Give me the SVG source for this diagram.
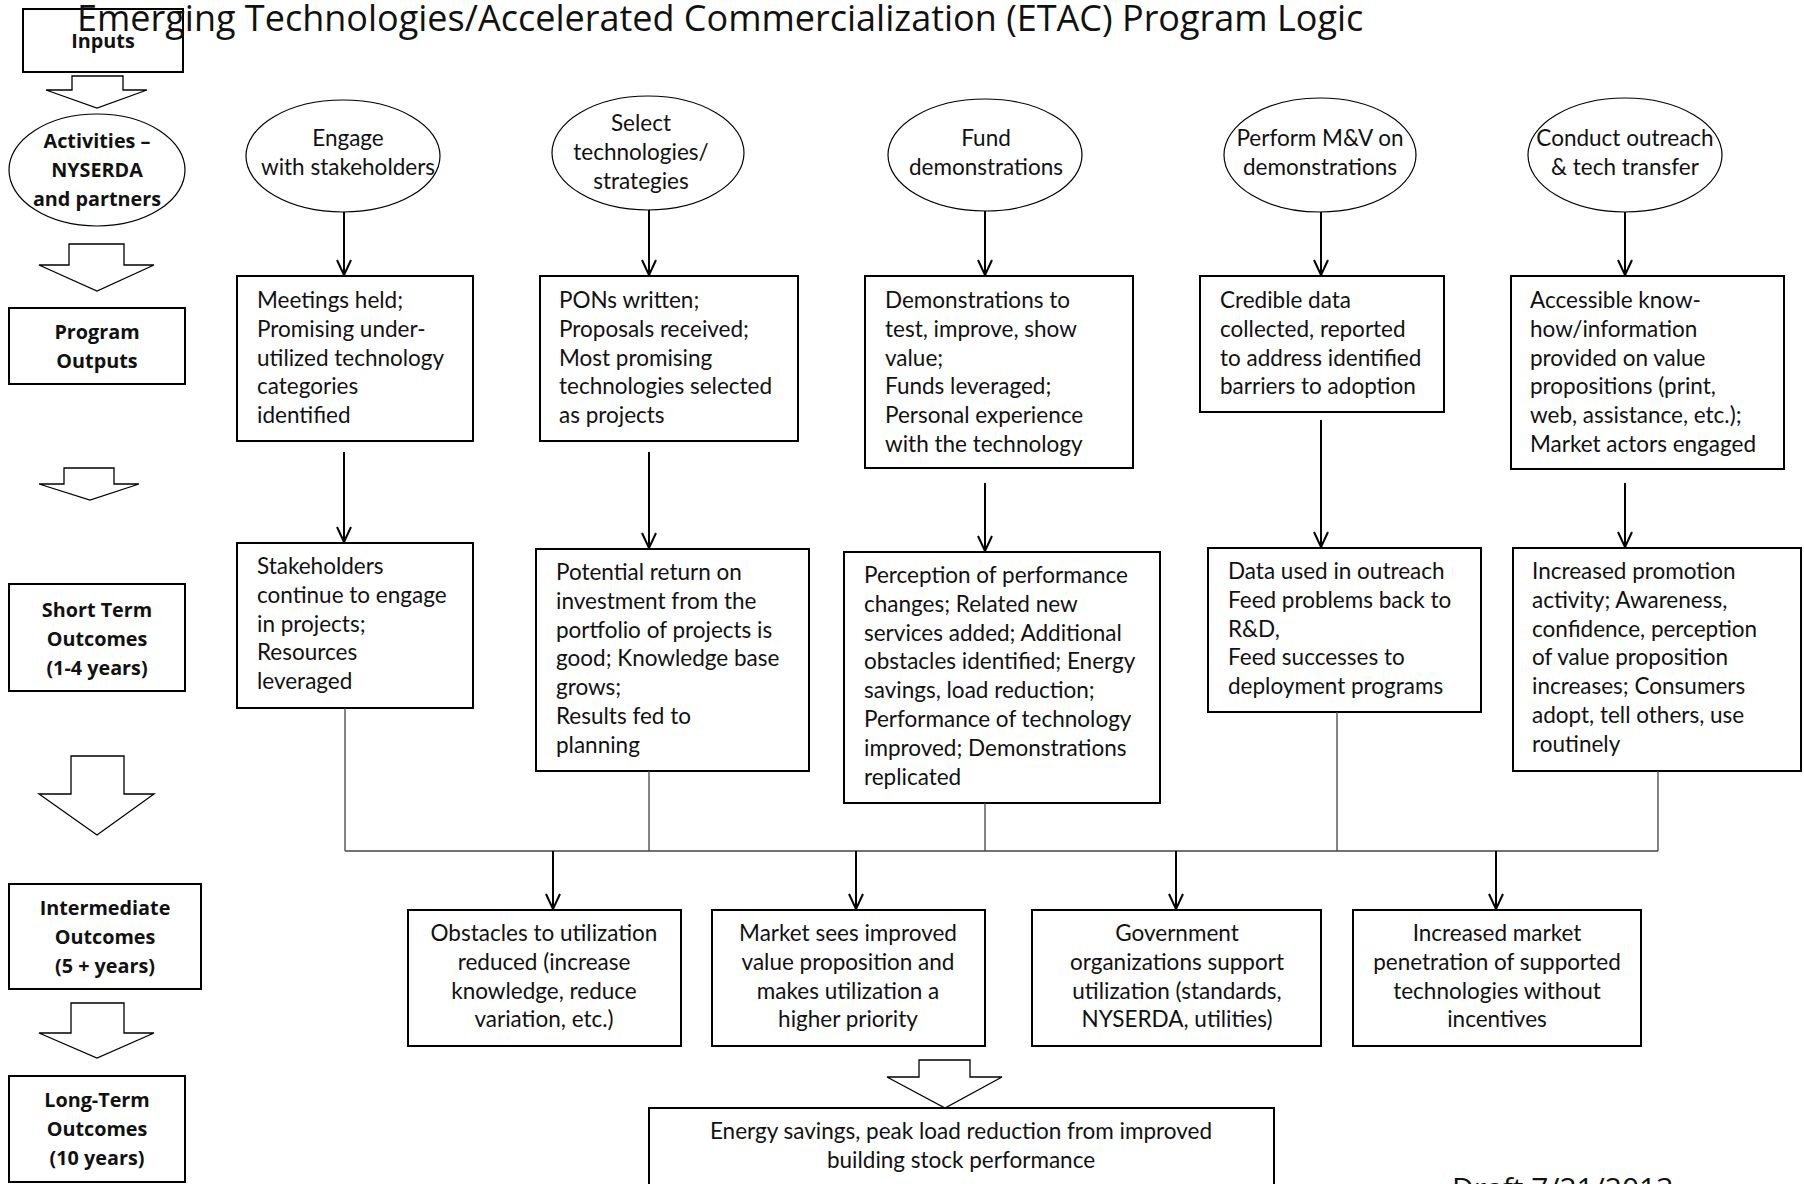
<svg xmlns="http://www.w3.org/2000/svg" width="1804" height="1184" viewBox="0 0 1804 1184">
  <style>
    .box { fill: #fff; stroke: #000; stroke-width: 2; }
    .oval { fill: #fff; stroke: #000; stroke-width: 1.2; }
    .blk { fill: #fff; stroke: #000; stroke-width: 1.3; stroke-linejoin: miter; }
    .t { font-family: Lato, "Open Sans", sans-serif; font-size: 22.5px; fill: #111; }
    .c { text-anchor: middle; }
    .lbl { font-family: "Open Sans", Lato, sans-serif; font-size: 19.8px; font-weight: bold; fill: #111; text-anchor: middle; }
    .title { font-family: "Open Sans", Lato, sans-serif; font-size: 36px; fill: #111; }
    .arr { stroke: #000; stroke-width: 2; fill: none; marker-end: url(#v); }
    .bus { stroke: #444; stroke-width: 1.3; fill: none; }
  </style>
  <defs>
    <marker id="v" markerUnits="userSpaceOnUse" markerWidth="18" markerHeight="18" refX="16" refY="8" orient="auto">
      <path d="M1,1 L16,8 L1,15" fill="none" stroke="#000" stroke-width="2"/>
    </marker>
  </defs>
  <rect width="1804" height="1184" fill="#fff"/>

  <!-- left column: stage labels -->
  <g id="stage-inputs">
    <rect class="box" x="23" y="9" width="160" height="63"/>
    <text class="lbl" x="103" y="48">Inputs</text>
  </g>
  <text class="title" x="77" y="31">Emerging Technologies/Accelerated Commercialization (ETAC) Program Logic</text>

  <g id="stage-activities">
    <ellipse class="oval" cx="97" cy="170" rx="88" ry="56"/>
    <text class="lbl" x="97" y="148">Activities –<tspan x="97" dy="29">NYSERDA</tspan><tspan x="97" dy="29">and partners</tspan></text>
  </g>
  <g id="stage-outputs">
    <rect class="box" x="9" y="308" width="176" height="76"/>
    <text class="lbl" x="97" y="339">Program<tspan x="97" dy="29">Outputs</tspan></text>
  </g>
  <g id="stage-short">
    <rect class="box" x="9" y="584" width="176" height="107"/>
    <text class="lbl" x="97" y="617">Short Term<tspan x="97" dy="29">Outcomes</tspan><tspan x="97" dy="29">(1-4 years)</tspan></text>
  </g>
  <g id="stage-intermediate">
    <rect class="box" x="9" y="884" width="192" height="105"/>
    <text class="lbl" x="105" y="915">Intermediate<tspan x="105" dy="29">Outcomes</tspan><tspan x="105" dy="29">(5 + years)</tspan></text>
  </g>
  <g id="stage-long">
    <rect class="box" x="9" y="1076" width="176" height="106"/>
    <text class="lbl" x="97" y="1107">Long-Term<tspan x="97" dy="29">Outcomes</tspan><tspan x="97" dy="29">(10 years)</tspan></text>
  </g>

  <!-- block arrows between stages -->
  <g id="stage-arrows">
    <path class="blk" d="M72,76 H123 V90 H147 L97,108 L46,90 H72 Z"/>
    <path class="blk" d="M69,244 H124 V265 H154 L97,291 L39,265 H69 Z"/>
    <path class="blk" d="M64,468 H114 V484 H139 L90,500 L39,484 H64 Z"/>
    <path class="blk" d="M71,756 H124 V794 H154 L97,835 L39,794 H71 Z"/>
    <path class="blk" d="M71,1003 H124 V1033 H154 L97,1058 L39,1033 H71 Z"/>
    <path class="blk" d="M919,1060 H970 V1077 H1002 L945,1108 L887,1077 H919 Z"/>
  </g>

  <!-- activities -->
  <g id="act-engage">
    <ellipse class="oval" cx="343" cy="156" rx="97" ry="56"/>
    <text class="t c" x="348" y="146">Engage<tspan x="348" dy="29">with stakeholders</tspan></text>
  </g>
  <g id="act-select">
    <ellipse class="oval" cx="648" cy="153" rx="96" ry="57"/>
    <text class="t c" x="641" y="131">Select<tspan x="641" dy="29">technologies/</tspan><tspan x="641" dy="29">strategies</tspan></text>
  </g>
  <g id="act-fund">
    <ellipse class="oval" cx="985" cy="155" rx="97" ry="56"/>
    <text class="t c" x="986" y="146">Fund<tspan x="986" dy="29">demonstrations</tspan></text>
  </g>
  <g id="act-mv">
    <ellipse class="oval" cx="1320" cy="155" rx="96" ry="57"/>
    <text class="t c" x="1320" y="146">Perform M&amp;V on<tspan x="1320" dy="29">demonstrations</tspan></text>
  </g>
  <g id="act-outreach">
    <ellipse class="oval" cx="1625" cy="155" rx="97" ry="57"/>
    <text class="t c" x="1625" y="146">Conduct outreach<tspan x="1625" dy="29">&amp; tech transfer</tspan></text>
  </g>

  <!-- program outputs -->
  <g id="out-meetings">
    <rect class="box" x="237" y="276" width="236" height="165"/>
    <text class="t" x="257" y="308">Meetings held;<tspan x="257" dy="28.8">Promising under-</tspan><tspan x="257" dy="28.8">utilized technology</tspan><tspan x="257" dy="28.8">categories</tspan><tspan x="257" dy="28.8">identified</tspan></text>
  </g>
  <g id="out-pons">
    <rect class="box" x="540" y="276" width="258" height="165"/>
    <text class="t" x="559" y="308">PONs written;<tspan x="559" dy="28.8">Proposals received;</tspan><tspan x="559" dy="28.8">Most promising</tspan><tspan x="559" dy="28.8">technologies selected</tspan><tspan x="559" dy="28.8">as projects</tspan></text>
  </g>
  <g id="out-demos">
    <rect class="box" x="865" y="276" width="268" height="192"/>
    <text class="t" x="885" y="308">Demonstrations to<tspan x="885" dy="28.8">test, improve, show</tspan><tspan x="885" dy="28.8">value;</tspan><tspan x="885" dy="28.8">Funds leveraged;</tspan><tspan x="885" dy="28.8">Personal experience</tspan><tspan x="885" dy="28.8">with the technology</tspan></text>
  </g>
  <g id="out-data">
    <rect class="box" x="1200" y="276" width="244" height="136"/>
    <text class="t" x="1220" y="308">Credible data<tspan x="1220" dy="28.8">collected, reported</tspan><tspan x="1220" dy="28.8">to address identified</tspan><tspan x="1220" dy="28.8">barriers to adoption</tspan></text>
  </g>
  <g id="out-knowhow">
    <rect class="box" x="1511" y="276" width="273" height="193"/>
    <text class="t" x="1530" y="308">Accessible know-<tspan x="1530" dy="28.8">how/information</tspan><tspan x="1530" dy="28.8">provided on value</tspan><tspan x="1530" dy="28.8">propositions (print,</tspan><tspan x="1530" dy="28.8">web, assistance, etc.);</tspan><tspan x="1530" dy="28.8">Market actors engaged</tspan></text>
  </g>

  <!-- short term outcomes -->
  <g id="st-stakeholders">
    <rect class="box" x="237" y="543" width="236" height="165"/>
    <text class="t" x="257" y="574">Stakeholders<tspan x="257" dy="28.8">continue to engage</tspan><tspan x="257" dy="28.8">in projects;</tspan><tspan x="257" dy="28.8">Resources</tspan><tspan x="257" dy="28.8">leveraged</tspan></text>
  </g>
  <g id="st-return">
    <rect class="box" x="536" y="549" width="273" height="222"/>
    <text class="t" x="556" y="580">Potential return on<tspan x="556" dy="28.8">investment from the</tspan><tspan x="556" dy="28.8">portfolio of projects  is</tspan><tspan x="556" dy="28.8">good; Knowledge base</tspan><tspan x="556" dy="28.8">grows;</tspan><tspan x="556" dy="28.8">Results  fed  to</tspan><tspan x="556" dy="28.8">planning</tspan></text>
  </g>
  <g id="st-perception">
    <rect class="box" x="844" y="552" width="316" height="251"/>
    <text class="t" x="864" y="583">Perception of performance<tspan x="864" dy="28.8">changes; Related new</tspan><tspan x="864" dy="28.8">services added; Additional</tspan><tspan x="864" dy="28.8">obstacles identified; Energy</tspan><tspan x="864" dy="28.8">savings, load reduction;</tspan><tspan x="864" dy="28.8">Performance of technology</tspan><tspan x="864" dy="28.8">improved; Demonstrations</tspan><tspan x="864" dy="28.8">replicated</tspan></text>
  </g>
  <g id="st-outreach-data">
    <rect class="box" x="1208" y="548" width="273" height="164"/>
    <text class="t" x="1228" y="579">Data used in outreach<tspan x="1228" dy="28.8">Feed problems back to</tspan><tspan x="1228" dy="28.8">R&amp;D,</tspan><tspan x="1228" dy="28.8">Feed successes to</tspan><tspan x="1228" dy="28.8">deployment programs</tspan></text>
  </g>
  <g id="st-promotion">
    <rect class="box" x="1513" y="548" width="288" height="223"/>
    <text class="t" x="1532" y="579">Increased promotion<tspan x="1532" dy="28.8">activity; Awareness,</tspan><tspan x="1532" dy="28.8">confidence, perception</tspan><tspan x="1532" dy="28.8">of value proposition</tspan><tspan x="1532" dy="28.8">increases; Consumers</tspan><tspan x="1532" dy="28.8">adopt, tell others, use</tspan><tspan x="1532" dy="28.8">routinely</tspan></text>
  </g>

  <!-- intermediate outcomes -->
  <g id="int-obstacles">
    <rect class="box" x="408" y="910" width="273" height="136"/>
    <text class="t c" x="544" y="941">Obstacles to utilization<tspan x="544" dy="28.8">reduced (increase</tspan><tspan x="544" dy="28.8">knowledge, reduce</tspan><tspan x="544" dy="28.8">variation, etc.)</tspan></text>
  </g>
  <g id="int-market">
    <rect class="box" x="712" y="910" width="273" height="136"/>
    <text class="t c" x="848" y="941">Market sees improved<tspan x="848" dy="28.8">value proposition and</tspan><tspan x="848" dy="28.8">makes utilization a</tspan><tspan x="848" dy="28.8">higher priority</tspan></text>
  </g>
  <g id="int-government">
    <rect class="box" x="1032" y="910" width="289" height="136"/>
    <text class="t c" x="1177" y="941">Government<tspan x="1177" dy="28.8">organizations  support</tspan><tspan x="1177" dy="28.8">utilization (standards,</tspan><tspan x="1177" dy="28.8">NYSERDA, utilities)</tspan></text>
  </g>
  <g id="int-penetration">
    <rect class="box" x="1353" y="910" width="288" height="136"/>
    <text class="t c" x="1497" y="941">Increased market<tspan x="1497" dy="28.8">penetration of supported</tspan><tspan x="1497" dy="28.8">technologies without</tspan><tspan x="1497" dy="28.8">incentives</tspan></text>
  </g>

  <!-- long term outcome -->
  <g id="lt-savings">
    <rect class="box" x="649" y="1108" width="625" height="90"/>
    <text class="t c" x="961" y="1139">Energy savings, peak load reduction from improved<tspan x="961" dy="28.8">building stock performance</tspan></text>
  </g>

  <text class="title" x="1452" y="1199" style="font-size:30px">Draft  7/21/2013</text>

  <!-- connectors -->
  <g id="connectors">
    <line class="arr" x1="344" y1="212" x2="344" y2="275"/>
    <line class="arr" x1="649" y1="210" x2="649" y2="275"/>
    <line class="arr" x1="985" y1="211" x2="985" y2="275"/>
    <line class="arr" x1="1321" y1="212" x2="1321" y2="275"/>
    <line class="arr" x1="1625" y1="212" x2="1625" y2="275"/>

    <line class="arr" x1="344" y1="452" x2="344" y2="542"/>
    <line class="arr" x1="649" y1="452" x2="649" y2="548"/>
    <line class="arr" x1="985" y1="483" x2="985" y2="551"/>
    <line class="arr" x1="1321" y1="420" x2="1321" y2="547"/>
    <line class="arr" x1="1625" y1="483" x2="1625" y2="547"/>

    <path class="bus" d="M345,708 V851 M649,771 V851 M985,803 V851 M1337,712 V851 M1658,771 V851 M345,851 H1658"/>

    <line class="arr" x1="553" y1="851" x2="553" y2="909"/>
    <line class="arr" x1="856" y1="851" x2="856" y2="909"/>
    <line class="arr" x1="1176" y1="851" x2="1176" y2="909"/>
    <line class="arr" x1="1496" y1="851" x2="1496" y2="909"/>
  </g>
</svg>
